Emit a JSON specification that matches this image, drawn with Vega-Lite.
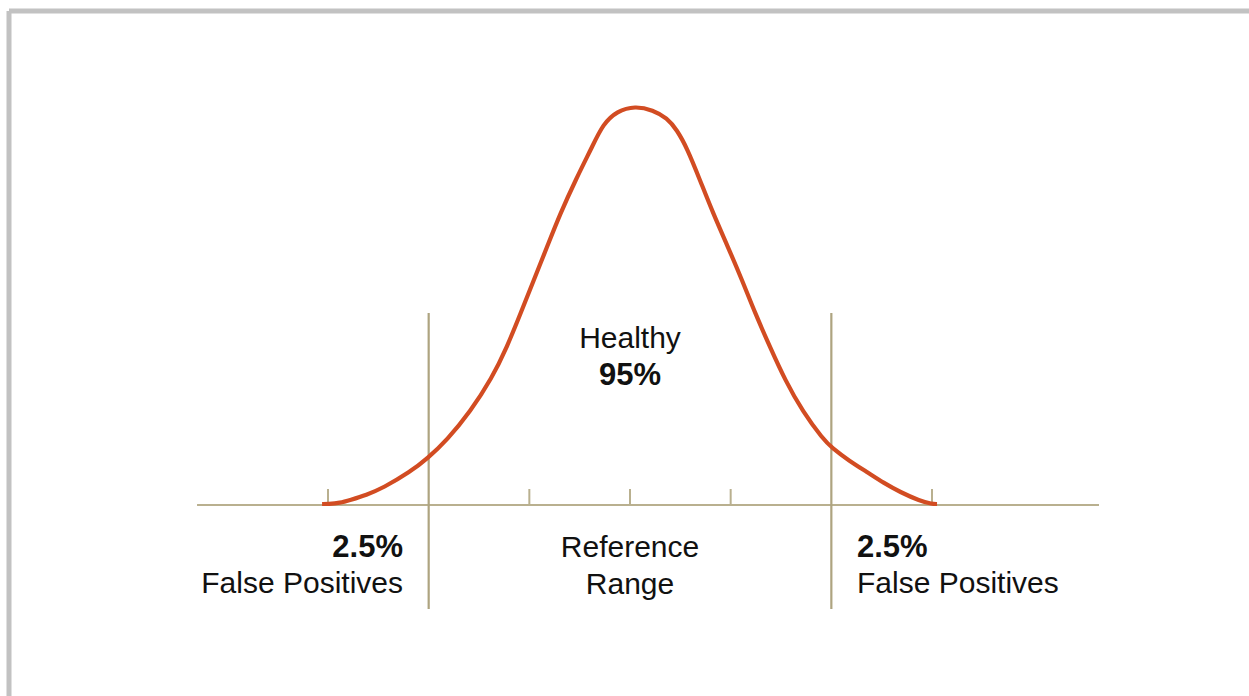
{
  "$schema": "https://vega.github.io/schema/vega-lite/v6.json",
  "autosize": {"type": "none"},
  "padding": {"left": 8.5, "top": 10.5, "right": 0, "bottom": 0},
  "width": 1240.5,
  "height": 685.5,
  "background": "white",
  "config": {
    "view": {"stroke": null},
    "axis": {"domain": true, "domainColor": "#c2c2c2", "domainWidth": 5, "ticks": false, "labels": false, "grid": false, "title": null}
  },
  "datasets": {
    "curve": [
      {"x": -3.059, "y": 0.001},
      {"x": -3.0, "y": 0.001},
      {"x": -2.881, "y": 0.002},
      {"x": -2.781, "y": 0.005},
      {"x": -2.62, "y": 0.01},
      {"x": -2.454, "y": 0.017},
      {"x": -2.185, "y": 0.033},
      {"x": -2.007, "y": 0.047},
      {"x": -1.818, "y": 0.065},
      {"x": -1.589, "y": 0.093},
      {"x": -1.371, "y": 0.127},
      {"x": -1.222, "y": 0.158},
      {"x": -1.093, "y": 0.19},
      {"x": -0.964, "y": 0.223},
      {"x": -0.824, "y": 0.258},
      {"x": -0.695, "y": 0.291},
      {"x": -0.536, "y": 0.326},
      {"x": -0.377, "y": 0.358},
      {"x": -0.268, "y": 0.381},
      {"x": -0.129, "y": 0.394},
      {"x": 0.05, "y": 0.399},
      {"x": 0.228, "y": 0.395},
      {"x": 0.368, "y": 0.387},
      {"x": 0.467, "y": 0.375},
      {"x": 0.566, "y": 0.357},
      {"x": 0.695, "y": 0.325},
      {"x": 0.824, "y": 0.292},
      {"x": 0.973, "y": 0.258},
      {"x": 1.113, "y": 0.225},
      {"x": 1.242, "y": 0.192},
      {"x": 1.391, "y": 0.158},
      {"x": 1.54, "y": 0.125},
      {"x": 1.718, "y": 0.093},
      {"x": 1.917, "y": 0.066},
      {"x": 2.007, "y": 0.057},
      {"x": 2.18, "y": 0.044},
      {"x": 2.354, "y": 0.033},
      {"x": 2.52, "y": 0.022},
      {"x": 2.682, "y": 0.013},
      {"x": 2.881, "y": 0.004},
      {"x": 3.0, "y": 0.001},
      {"x": 3.05, "y": 0.001}
    ],
    "baseline": [{"x": -4.301, "x2": 4.659, "y": 0}],
    "ticks": [
      {"x": -3, "y": 0, "y2": 0.016},
      {"x": -1, "y": 0, "y2": 0.016},
      {"x": 0, "y": 0, "y2": 0.016},
      {"x": 1, "y": 0, "y2": 0.016},
      {"x": 3, "y": 0, "y2": 0.016}
    ],
    "vlines": [
      {"x": -2, "y": -0.104, "y2": 0.192},
      {"x": 2, "y": -0.104, "y2": 0.192}
    ],
    "labels": [
      {"x": 0, "y": 0.157, "text": "Healthy", "side": "center", "kind": "label"},
      {"x": 0, "y": 0.12, "text": "95%", "side": "center", "kind": "pct"},
      {"x": 0, "y": -0.052, "text": "Reference", "side": "center", "kind": "label"},
      {"x": 0, "y": -0.089, "text": "Range", "side": "center", "kind": "label"},
      {"x": -2.255, "y": -0.052, "text": "2.5%", "side": "left", "kind": "pct"},
      {"x": -2.255, "y": -0.088, "text": "False Positives", "side": "left", "kind": "label"},
      {"x": 2.255, "y": -0.052, "text": "2.5%", "side": "right", "kind": "pct"},
      {"x": 2.255, "y": -0.088, "text": "False Positives", "side": "right", "kind": "label"}
    ]
  },
  "encoding": {
    "x": {"field": "x", "type": "quantitative", "scale": {"domain": [-6.174, 6.149], "nice": false, "zero": false}, "axis": {"orient": "top"}},
    "y": {"field": "y", "type": "quantitative", "scale": {"domain": [-0.191, 0.4945], "nice": false, "zero": false}, "axis": {"orient": "left"}}
  },
  "layer": [
    {
      "data": {"name": "baseline"},
      "mark": {"type": "rule", "color": "#b9b08f", "strokeWidth": 2},
      "encoding": {"x2": {"field": "x2"}}
    },
    {
      "data": {"name": "ticks"},
      "mark": {"type": "rule", "color": "#b9b08f", "strokeWidth": 2},
      "encoding": {"y2": {"field": "y2"}}
    },
    {
      "data": {"name": "vlines"},
      "mark": {"type": "rule", "color": "#aea480", "strokeWidth": 2.2},
      "encoding": {"y2": {"field": "y2"}}
    },
    {
      "data": {"name": "curve"},
      "mark": {"type": "line", "color": "#d24c22", "strokeWidth": 4.2, "strokeCap": "butt", "interpolate": "basis"},
      "encoding": {"order": {"field": "x", "type": "quantitative"}}
    },
    {
      "data": {"name": "labels"},
      "transform": [{"filter": "datum.side === 'center' && datum.kind === 'label'"}],
      "mark": {"type": "text", "align": "center", "baseline": "alphabetic", "font": "Liberation Sans", "fontSize": 30, "color": "#111"},
      "encoding": {"text": {"field": "text"}}
    },
    {
      "data": {"name": "labels"},
      "transform": [{"filter": "datum.side === 'center' && datum.kind === 'pct'"}],
      "mark": {"type": "text", "align": "center", "baseline": "alphabetic", "font": "Liberation Sans", "fontSize": 31, "fontWeight": "bold", "color": "#111"},
      "encoding": {"text": {"field": "text"}}
    },
    {
      "data": {"name": "labels"},
      "transform": [{"filter": "datum.side === 'left' && datum.kind === 'label'"}],
      "mark": {"type": "text", "align": "right", "baseline": "alphabetic", "font": "Liberation Sans", "fontSize": 30, "color": "#111"},
      "encoding": {"text": {"field": "text"}}
    },
    {
      "data": {"name": "labels"},
      "transform": [{"filter": "datum.side === 'left' && datum.kind === 'pct'"}],
      "mark": {"type": "text", "align": "right", "baseline": "alphabetic", "font": "Liberation Sans", "fontSize": 31, "fontWeight": "bold", "color": "#111"},
      "encoding": {"text": {"field": "text"}}
    },
    {
      "data": {"name": "labels"},
      "transform": [{"filter": "datum.side === 'right' && datum.kind === 'label'"}],
      "mark": {"type": "text", "align": "left", "baseline": "alphabetic", "font": "Liberation Sans", "fontSize": 30, "color": "#111"},
      "encoding": {"text": {"field": "text"}}
    },
    {
      "data": {"name": "labels"},
      "transform": [{"filter": "datum.side === 'right' && datum.kind === 'pct'"}],
      "mark": {"type": "text", "align": "left", "baseline": "alphabetic", "font": "Liberation Sans", "fontSize": 31, "fontWeight": "bold", "color": "#111"},
      "encoding": {"text": {"field": "text"}}
    }
  ]
}
